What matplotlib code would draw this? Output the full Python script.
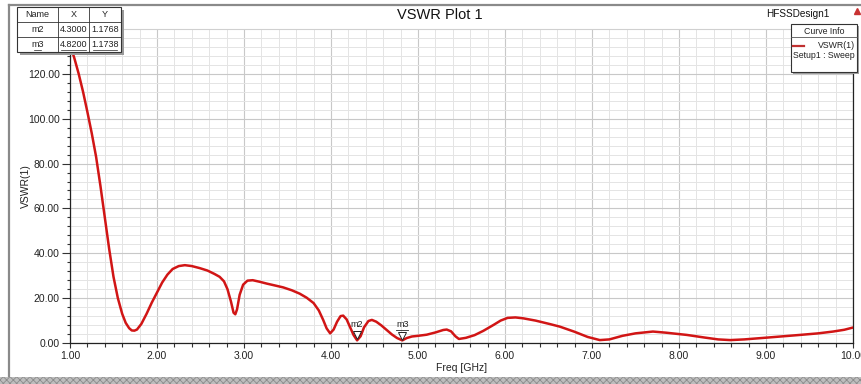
import matplotlib
matplotlib.use("Agg")
import matplotlib.pyplot as plt
import matplotlib.transforms as mtransforms
from matplotlib.patches import Rectangle
from matplotlib.lines import Line2D
from matplotlib.ticker import MultipleLocator, FormatStrFormatter

plt.rcParams['font.family'] = ['Liberation Sans', 'DejaVu Sans']
plt.rcParams['hatch.color'] = '#8c8c8c'
plt.rcParams['hatch.linewidth'] = 0.6

# VSWR sweep samples
freq = [1.00, 1.05, 1.10, 1.15, 1.20, 1.25, 1.30, 1.35, 1.40, 1.45, 1.50,
        1.55, 1.60, 1.64, 1.68, 1.71, 1.74, 1.77, 1.82, 1.88, 1.94, 2.00, 2.06,
        2.12, 2.18, 2.25, 2.32, 2.40, 2.49, 2.58, 2.66, 2.72, 2.77, 2.81, 2.85,
        2.88, 2.90, 2.92, 2.95, 2.99, 3.04, 3.10, 3.18, 3.26, 3.35, 3.45, 3.55,
        3.64, 3.72, 3.80, 3.86, 3.91, 3.95, 3.99, 4.03, 4.07, 4.11, 4.14, 4.18,
        4.22, 4.26, 4.30, 4.34, 4.38, 4.43, 4.47, 4.52, 4.58, 4.64, 4.70, 4.76,
        4.82, 4.87, 4.93, 5.00, 5.10, 5.20, 5.29, 5.33, 5.38, 5.43, 5.47, 5.55,
        5.65, 5.75, 5.87, 5.95, 6.03, 6.12, 6.21, 6.35, 6.52, 6.63, 6.80, 6.95,
        7.09, 7.20, 7.35, 7.50, 7.70, 7.85, 8.09, 8.30, 8.45, 8.59, 8.75, 9.01,
        9.20, 9.39, 9.60, 9.77, 9.90, 10.00]
vswr = [133.0, 127.0, 120.0, 112.0, 103.0, 93.5, 83.0, 70.0, 56.0, 42.0, 29.5,
        20.0, 13.0, 9.0, 6.6, 5.6, 5.5, 6.0, 8.5, 13.0, 18.0, 22.5, 27.0,
        30.5, 33.0, 34.3, 34.7, 34.3, 33.4, 32.3, 30.8, 29.5, 27.5, 24.0, 18.5,
        13.5, 12.8, 15.0, 21.5, 26.0, 27.8, 28.0, 27.3, 26.5, 25.7, 24.8, 23.5,
        22.0, 20.2, 17.8, 14.5, 10.3, 6.5, 4.3, 6.0, 9.5, 12.0, 12.2, 10.5,
        7.0, 3.5, 1.18, 3.0, 7.0, 9.8, 10.3, 9.5, 7.8, 5.8, 3.8, 2.2,
        1.17, 2.2, 2.9, 3.2, 3.7, 4.7, 5.8, 6.0, 5.2, 3.0, 1.8, 2.3,
        3.5, 5.4, 8.1, 10.0, 11.2, 11.4, 11.0, 10.0, 8.4, 7.3, 5.0, 2.7,
        1.3, 1.6, 3.2, 4.3, 5.1, 4.6, 3.6, 2.4, 1.6, 1.3, 1.6, 2.4,
        3.0, 3.6, 4.3, 5.1, 5.9, 6.9]

# Markers
marker_names = ["m2", "m3"]
marker_x = [4.3000, 4.8200]
marker_y = [1.1768, 1.1738]

W, H = 862, 384
fig = plt.figure(figsize=(W / 100, H / 100), dpi=100)
fig.patch.set_facecolor("white")


def fx(x):
    return x / W


def fy(y):
    return 1 - y / H


ax = fig.add_axes([fx(70), fy(343), fx(853) - fx(70), fy(29) - fy(343)])
ax.set_facecolor("white")
ax.plot(freq, vswr, color="#d11515", lw=1.8, solid_capstyle="round", zorder=3)
ax.set_xlim(1.0, 10.0)
ax.set_ylim(0, 140)

ax.xaxis.set_major_locator(MultipleLocator(1.0))
ax.xaxis.set_minor_locator(MultipleLocator(0.2))
ax.yaxis.set_major_locator(MultipleLocator(20))
ax.yaxis.set_minor_locator(MultipleLocator(4))
ax.xaxis.set_major_formatter(FormatStrFormatter("%.2f"))
ax.yaxis.set_major_formatter(FormatStrFormatter("%.2f"))
ax.set_yticks([0, 20, 40, 60, 80, 100, 120])

ax.grid(which="major", color="#c8c8c8", lw=0.8, zorder=0)
ax.grid(which="minor", color="#e4e4e4", lw=0.7, zorder=0)
ax.set_axisbelow(True)

ax.tick_params(axis="x", which="major", length=3.5, width=0.8, color="#333333",
               labelsize=7.5, labelcolor="#222222", pad=2)
ax.tick_params(axis="x", which="minor", length=3.0, width=0.8, color="#333333")
ax.tick_params(axis="y", which="major", length=5.5, width=0.8, color="#333333",
               labelsize=7.5, labelcolor="#222222", pad=2)
ax.tick_params(axis="y", which="minor", length=2.5, width=0.8, color="#333333")

for side in ("left", "bottom", "right"):
    ax.spines[side].set_color("#222222")
    ax.spines[side].set_linewidth(0.9)
ax.spines["top"].set_color("#d0d0d0")
ax.spines["top"].set_linewidth(0.8)

ax.set_xlabel("Freq [GHz]", fontsize=7.5, color="#222222", labelpad=2)
ax.set_ylabel("VSWR(1)", fontsize=7.5, color="#222222", labelpad=-2.5)

# marker flags on the curve
flag_shift = mtransforms.ScaledTranslation(0, 3.5 / 72, fig.dpi_scale_trans)
for name, mx, my in zip(marker_names, marker_x, marker_y):
    ax.plot([mx], [my], marker="v", ms=5.5, mfc="white", mec="#222222", mew=0.7,
            transform=ax.transData + flag_shift, zorder=4, clip_on=False)
    ax.annotate(name, (mx, my), xytext=(0, 8), textcoords="offset points",
                ha="center", va="bottom", fontsize=6.5, color="#222222", zorder=5)
# selected marker label is underlined
under_shift = mtransforms.ScaledTranslation(0, 7.6 / 72, fig.dpi_scale_trans)
ax.add_line(Line2D([marker_x[1] - 0.07, marker_x[1] + 0.07], [marker_y[1], marker_y[1]],
                   transform=ax.transData + under_shift, color="#222222", lw=0.6, clip_on=False))

# title and design name
fig.text(fx(440), fy(15), "VSWR Plot 1", ha="center", va="center", fontsize=10.5, color="#111111")
fig.text(fx(830), fy(14), "HFSSDesign1", ha="right", va="center", fontsize=7.2, color="#111111")
fig.add_artist(Line2D([fx(857)], [fy(11)], marker="^", ms=5, color="#c83232", transform=fig.transFigure))

# outer window frame
fig.add_artist(Line2D([fx(9), fx(9)], [fy(5), fy(376)], color="#8a8a8a", lw=1.6, transform=fig.transFigure))
fig.add_artist(Line2D([fx(9), fx(862)], [fy(5), fy(5)], color="#8a8a8a", lw=1.6, transform=fig.transFigure))
fig.add_artist(Rectangle((0, 0), 1, fy(377), transform=fig.transFigure, facecolor="#bdbdbd",
                         edgecolor="#8c8c8c", hatch="xxxxx", lw=0))

# marker table
cols = [17, 58, 89, 121]
rows = [7, 22, 37, 52]
fig.add_artist(Rectangle((fx(cols[0] + 3), fy(rows[-1] + 3)), fx(cols[-1]) - fx(cols[0]),
                         fy(rows[0]) - fy(rows[-1]), transform=fig.transFigure,
                         facecolor="#9a9a9a", edgecolor="none", zorder=9))
fig.add_artist(Rectangle((fx(cols[0]), fy(rows[-1])), fx(cols[-1]) - fx(cols[0]),
                         fy(rows[0]) - fy(rows[-1]), transform=fig.transFigure,
                         facecolor="white", edgecolor="#333333", lw=0.8, zorder=10))
for c in cols[1:-1]:
    fig.add_artist(Line2D([fx(c), fx(c)], [fy(rows[0]), fy(rows[-1])], color="#333333", lw=0.6,
                          transform=fig.transFigure, zorder=11))
for r in rows[1:-1]:
    fig.add_artist(Line2D([fx(cols[0]), fx(cols[-1])], [fy(r), fy(r)], color="#333333", lw=0.6,
                          transform=fig.transFigure, zorder=11))
table_rows = [["Name", "X", "Y"]] + [[n, f"{x:.4f}", f"{y:.4f}"]
                                     for n, x, y in zip(marker_names, marker_x, marker_y)]
for ri, row in enumerate(table_rows):
    yc = (rows[ri] + rows[ri + 1]) / 2
    for ci, txt in enumerate(row):
        xc = (cols[ci] + cols[ci + 1]) / 2
        fig.text(fx(xc), fy(yc), txt, ha="center", va="center", fontsize=6.5, color="#222222", zorder=12)
        if ri == len(table_rows) - 1:
            half = len(txt) * 2.0
            fig.add_artist(Line2D([fx(xc - half), fx(xc + half)], [fy(yc + 5), fy(yc + 5)],
                                  color="#222222", lw=0.5, transform=fig.transFigure, zorder=12))

# curve info box
bx0, by0, bx1, by1 = 791, 24, 857, 72
fig.add_artist(Rectangle((fx(bx0 + 2), fy(by1 + 2)), fx(bx1) - fx(bx0), fy(by0) - fy(by1),
                         transform=fig.transFigure, facecolor="#a0a0a0", edgecolor="none", zorder=9))
fig.add_artist(Rectangle((fx(bx0), fy(by1)), fx(bx1) - fx(bx0), fy(by0) - fy(by1),
                         transform=fig.transFigure, facecolor="white", edgecolor="#333333", lw=0.8, zorder=10))
fig.add_artist(Line2D([fx(bx0), fx(bx1)], [fy(37), fy(37)], color="#555555", lw=0.6,
                      transform=fig.transFigure, zorder=11))
fig.text(fx((bx0 + bx1) / 2), fy(31), "Curve Info", ha="center", va="center", fontsize=6.3, color="#222222", zorder=12)
fig.add_artist(Line2D([fx(793), fx(804)], [fy(46), fy(46)], color="#c03030", lw=1.6,
                      transform=fig.transFigure, zorder=12))
fig.text(fx(855), fy(46), "VSWR(1)", ha="right", va="center", fontsize=6.3, color="#222222", zorder=12)
fig.text(fx(855), fy(55), "Setup1 : Sweep", ha="right", va="center", fontsize=6.3, color="#222222", zorder=12)

fig.savefig("out.png", dpi=100)
